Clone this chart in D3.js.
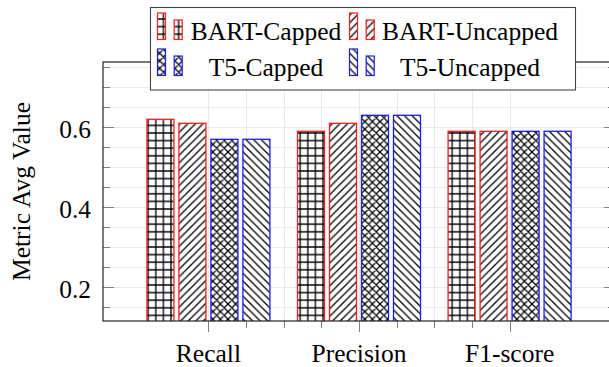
<!DOCTYPE html>
<html>
<head>
<meta charset="utf-8">
<script src="https://cdn.jsdelivr.net/npm/d3@7/dist/d3.min.js"></script>
<style>
  html, body { margin: 0; padding: 0; background: #fff; }
  svg { display: block; }
  text { font-family: "Liberation Serif", "Times New Roman", serif; fill: #000; }
</style>
</head>
<body>
<svg id="chart" width="609" height="367"></svg>
<script>
// Metric averages per model / truncation setting
const categories = ["Recall", "Precision", "F1-score"];
const seriesNames = ["BART-Capped", "BART-Uncapped", "T5-Capped", "T5-Uncapped"];
const bartCapped   = [0.62, 0.59, 0.59];
const bartUncapped = [0.61, 0.61, 0.59];
const t5Capped     = [0.57, 0.63, 0.59];
const t5Uncapped   = [0.57, 0.63, 0.59];
const yTickValues  = [0.2, 0.4, 0.6];
const yMinorValues = [0.15, 0.25, 0.3, 0.35, 0.45, 0.5, 0.55, 0.65, 0.7, 0.75];
const xMinorValues = [0.25, 0.5, 0.75, 1.25, 1.5, 1.75];
const yLabel = "Metric Avg Value";

const seriesValues = [bartCapped, bartUncapped, t5Capped, t5Uncapped];
const seriesColor = ["#ff1a1a", "#ff1a1a", "#1a1aff", "#1a1aff"];
const seriesPattern = ["grid", "nelines", "crosshatch", "nwlines"];

const svg = d3.select("#chart");
const plot = { left: 103, right: 615, top: 62, bottom: 321 };

const x = d3.scaleLinear().domain([-0.7, 2.7]).range([plot.left, plot.right]);
const y = d3.scaleLinear().domain([0.11575, 0.76325]).range([plot.bottom, plot.top]);
const offset = d3.scaleBand().domain(seriesNames).range([-64, 64])
  .paddingInner(0.15625).paddingOuter(0.078125);

// hatch patterns
const defs = svg.append("defs");
const s = 7.6;
function pattern(id, d) {
  const p = defs.append("pattern").attr("id", id)
    .attr("patternUnits", "userSpaceOnUse").attr("width", s).attr("height", s);
  p.append("rect").attr("width", s).attr("height", s).attr("fill", "#fff");
  p.append("path").attr("d", d).attr("stroke", "#000").attr("stroke-width", 1.3)
    .attr("fill", "none");
}
const ne = `M-1,1 L1,-1 M0,${s} L${s},0 M${s-1},${s+1} L${s+1},${s-1}`;
const nw = `M-1,${s-1} L1,${s+1} M0,0 L${s},${s} M${s-1},-1 L${s+1},1`;
pattern("grid", `M0,${s/2} H${s} M${s/2},0 V${s}`);
pattern("nelines", ne);
pattern("nwlines", nw);
pattern("crosshatch", ne + " " + nw);

const clip = defs.append("clipPath").attr("id", "plotclip");
clip.append("rect").attr("x", plot.left).attr("y", plot.top)
  .attr("width", plot.right - plot.left).attr("height", plot.bottom - plot.top);

// grid
const grid = svg.append("g").attr("stroke", "#e9e9e9").attr("stroke-width", 1);
grid.selectAll("line.hy").data(yMinorValues.concat(yTickValues)).join("line")
  .attr("x1", plot.left).attr("x2", plot.right)
  .attr("y1", d => Math.round(y(d)) + 0.5).attr("y2", d => Math.round(y(d)) + 0.5);
grid.selectAll("line.vx").data(xMinorValues.concat([0, 1, 2])).join("line")
  .attr("y1", plot.top).attr("y2", plot.bottom)
  .attr("x1", d => Math.round(x(d)) + 0.5).attr("x2", d => Math.round(x(d)) + 0.5);

// ticks
const ticks = svg.append("g").attr("stroke", "#808080").attr("stroke-width", 1);
ticks.selectAll("line.ymaj").data(yTickValues).join("line")
  .attr("x1", plot.left).attr("x2", plot.left + 11)
  .attr("y1", d => Math.round(y(d)) + 0.5).attr("y2", d => Math.round(y(d)) + 0.5);
ticks.selectAll("line.ymin").data(yMinorValues).join("line")
  .attr("x1", plot.left).attr("x2", plot.left + 7)
  .attr("y1", d => Math.round(y(d)) + 0.5).attr("y2", d => Math.round(y(d)) + 0.5);
ticks.selectAll("line.ymajr").data(yTickValues).join("line")
  .attr("x1", plot.right).attr("x2", plot.right - 11)
  .attr("y1", d => Math.round(y(d)) + 0.5).attr("y2", d => Math.round(y(d)) + 0.5);
ticks.selectAll("line.yminr").data(yMinorValues).join("line")
  .attr("x1", plot.right).attr("x2", plot.right - 7)
  .attr("y1", d => Math.round(y(d)) + 0.5).attr("y2", d => Math.round(y(d)) + 0.5);
ticks.selectAll("line.xmaj").data([0, 1, 2]).join("line")
  .attr("y1", plot.bottom).attr("y2", plot.bottom + 11)
  .attr("x1", d => Math.round(x(d)) + 0.5).attr("x2", d => Math.round(x(d)) + 0.5);
ticks.selectAll("line.xmin").data(xMinorValues).join("line")
  .attr("y1", plot.bottom).attr("y2", plot.bottom + 7)
  .attr("x1", d => Math.round(x(d)) + 0.5).attr("x2", d => Math.round(x(d)) + 0.5);

// bars
const barsG = svg.append("g").attr("clip-path", "url(#plotclip)");
seriesNames.forEach((name, si) => {
  barsG.append("g").selectAll("rect").data(seriesValues[si]).join("rect")
    .attr("x", (d, i) => x(i) + offset(name))
    .attr("width", offset.bandwidth())
    .attr("y", d => y(d))
    .attr("height", d => y(y.domain()[0]) - y(d) + 2)
    .attr("fill", `url(#${seriesPattern[si]})`)
    .attr("stroke", seriesColor[si])
    .attr("stroke-width", 1.3);
});

// axis frame
svg.append("rect").attr("x", plot.left).attr("y", plot.top)
  .attr("width", plot.right - plot.left).attr("height", plot.bottom - plot.top)
  .attr("fill", "none").attr("stroke", "#222").attr("stroke-width", 1.2);

// tick labels
svg.append("g").selectAll("text").data(yTickValues).join("text")
  .attr("x", 91).attr("y", d => y(d) + 10.5)
  .attr("text-anchor", "end").attr("font-size", 25.5)
  .text(d => d3.format(".1f")(d));
svg.append("g").selectAll("text").data(categories).join("text")
  .attr("x", (d, i) => x(i)).attr("y", 361.5)
  .attr("text-anchor", "middle").attr("font-size", 25.5)
  .text(d => d);

// y-axis title
svg.append("text")
  .attr("transform", `translate(30,${(plot.top + plot.bottom) / 2}) rotate(-90)`)
  .attr("text-anchor", "middle").attr("font-size", 25.5)
  .text(yLabel);

// legend
const legend = svg.append("g");
legend.append("rect").attr("x", 150.5).attr("y", 7.5).attr("width", 425).attr("height", 82.5)
  .attr("fill", "#fff").attr("stroke", "#444").attr("stroke-width", 1.1);
const colSym = [157.5, 349.5];
const colText = [266, 470];
const rowBase = [39.5, 75.5];
seriesNames.forEach((name, si) => {
  const col = si % 2, row = Math.floor(si / 2);
  const g = legend.append("g");
  const base = rowBase[row];
  [[0, 26.5], [16.7, 19.5]].forEach(([dx, h]) => {
    g.append("rect").attr("x", colSym[col] + dx).attr("y", base - h)
      .attr("width", 8).attr("height", h)
      .attr("fill", `url(#${seriesPattern[si]})`)
      .attr("stroke", seriesColor[si]).attr("stroke-width", 1.2);
  });
  g.append("text").attr("x", colText[col]).attr("y", base)
    .attr("text-anchor", "middle").attr("font-size", 25.5).text(name);
});
</script>
</body>
</html>
